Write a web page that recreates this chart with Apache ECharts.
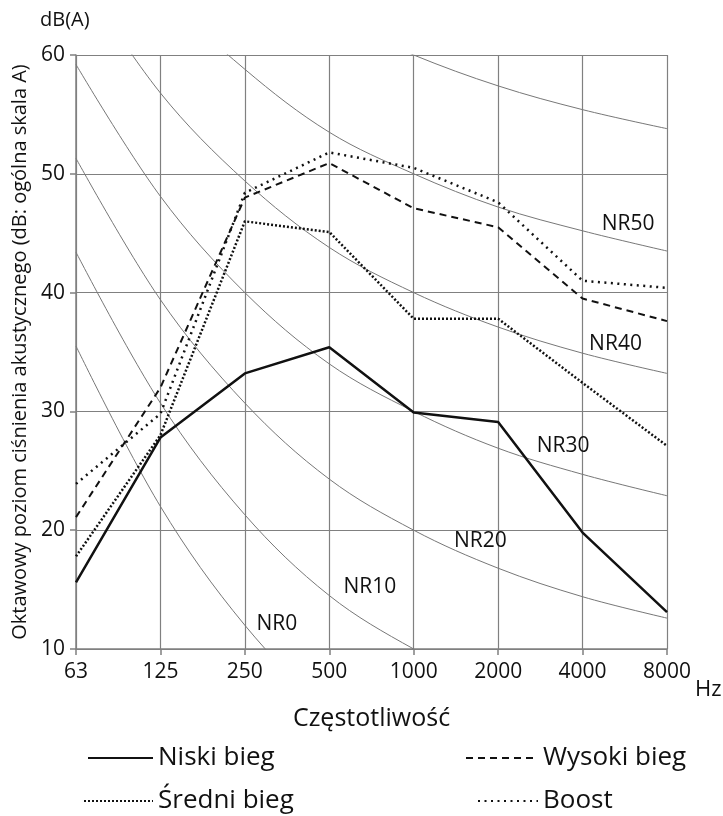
<!DOCTYPE html>
<html>
<head>
<meta charset="utf-8">
<script src="https://cdn.jsdelivr.net/npm/echarts@6/dist/echarts.min.js"></script>
<style>
  html, body { margin: 0; padding: 0; background: #fff; }
  #chart { width: 723px; height: 816px; }
</style>
</head>
<body>
<div id="chart"></div>
<script>
// pasma oktawowe
var freqs = ['63', '125', '250', '500', '1000', '2000', '4000', '8000'];
var yTicks = [10, 20, 30, 40, 50, 60];

// krzywe NR (wartości tabelaryczne)
var nr0  = [35.5, 22.0, 12.0, 4.8, 0, -3.5, -6.1, -8.0];
var nr10 = [43.4, 30.7, 21.3, 14.5, 10, 6.6, 4.2, 2.3];
var nr20 = [51.3, 39.4, 30.7, 24.3, 20, 16.8, 14.4, 12.6];
var nr30 = [59.2, 48.1, 40.0, 34.0, 30, 26.9, 24.7, 22.9];
var nr40 = [67.1, 56.8, 49.4, 43.8, 40, 37.1, 34.9, 33.2];
var nr50 = [75.0, 65.5, 58.8, 53.5, 50, 47.2, 45.2, 43.5];
var nr60 = [82.9, 74.2, 68.1, 63.2, 60, 57.4, 55.4, 53.8];

// biegi wentylatora
var niski  = [15.6, 27.8, 33.2, 35.4, 29.9, 29.1, 19.8, 13.1];
var sredni = [17.8, 28.0, 46.0, 45.1, 37.8, 37.8, 32.4, 27.1];
var wysoki = [21.1, 32.0, 48.0, 50.9, 47.1, 45.5, 39.5, 37.6];
var boost  = [23.9, 29.8, 48.4, 51.8, 50.5, 47.6, 41.0, 40.4];

// etykiety krzywych NR [indeks pasma, dB]
var nrNames = ['NR0', 'NR10', 'NR20', 'NR30', 'NR40', 'NR50'];
var nrLabelPos = [[2.38, 12.1], [3.48, 15.2], [4.79, 19.1], [5.77, 27.1], [6.39, 35.7], [6.54, 45.8]];

var FONT = 'Open Sans';
var INK = '#111';
var GRID = '#808080';

function pairs(arr) {
	return arr.map(function (v, i) { return [i, v]; });
}

function nrSeries(arr) {
	return {
		type: 'line',
		data: pairs(arr),
		smooth: 0.35,
		symbol: 'none',
		silent: true,
		z: 2,
		lineStyle: { color: '#777', width: 1 }
	};
}

function fanSeries(name, arr, width, dash) {
	return {
		name: name,
		type: 'line',
		data: pairs(arr),
		symbol: 'none',
		z: 5,
		itemStyle: { color: INK },
		lineStyle: { color: INK, width: width, type: dash }
	};
}

// jedna pozycja legendy = jeden komponent legend
function legendItem(name, left, top, w) {
	return {
		left: left, top: top,
		itemWidth: w, itemHeight: 14, itemGap: 0,
		data: [name],
		itemStyle: { opacity: 0 },
		textStyle: { fontFamily: FONT, fontSize: 26, color: INK }
	};
}

function caption(text, left, top, size) {
	return {
		text: text, left: left, top: top, padding: 0,
		textStyle: { fontFamily: FONT, fontSize: size, fontWeight: 'normal', color: INK }
	};
}

var chart = echarts.init(document.getElementById('chart'));

var series = [
	nrSeries(nr0), nrSeries(nr10), nrSeries(nr20), nrSeries(nr30),
	nrSeries(nr40), nrSeries(nr50), nrSeries(nr60),
	fanSeries('Niski bieg', niski, 2.5, 'solid'),
	fanSeries('Średni bieg', sredni, 2.5, [2, 2]),
	fanSeries('Wysoki bieg', wysoki, 2, [7, 5]),
	fanSeries('Boost', boost, 2.5, [2, 4.5]),
	{
		type: 'scatter',
		symbolSize: 0,
		silent: true,
		z: 6,
		itemStyle: { opacity: 1 },
		data: nrLabelPos.map(function (p, i) { return { value: p, name: nrNames[i] }; }),
		label: {
			show: true,
			position: 'inside',
			formatter: '{b}',
			color: INK,
			fontFamily: FONT,
			fontSize: 21
		}
	}
];

chart.setOption({
	animation: false,
	backgroundColor: '#fff',
	title: [
		caption('dB(A)', 40, 10, 20),
		caption('Hz', 695, 679, 22)
	],
	grid: { left: 76, right: 56, top: 55, bottom: 167 },
	legend: [
		legendItem('Niski bieg', 82, 740, 65),
		legendItem('Średni bieg', 78, 783, 69),
		legendItem('Wysoki bieg', 460, 740, 72),
		legendItem('Boost', 472, 783, 60)
	],
	xAxis: {
		type: 'value',
		min: 0, max: freqs.length - 1, interval: 1,
		name: 'Częstotliwość',
		nameLocation: 'middle',
		nameGap: 57,
		nameTextStyle: { fontFamily: FONT, fontSize: 25, color: INK },
		axisLine: { lineStyle: { color: GRID, width: 1.5 } },
		axisTick: { show: true, length: 6, lineStyle: { color: GRID, width: 1.5 } },
		axisLabel: {
			margin: 13,
			fontFamily: FONT, fontSize: 21, color: INK,
			formatter: function (v) { return freqs[v]; }
		},
		splitLine: { show: true, lineStyle: { color: GRID, width: 1.2 } }
	},
	yAxis: {
		type: 'value',
		min: yTicks[0], max: yTicks[yTicks.length - 1], interval: 10,
		name: 'Oktawowy poziom ciśnienia akustycznego (dB: ogólna skala A)',
		nameLocation: 'middle',
		nameGap: 44,
		nameTextStyle: { fontFamily: FONT, fontSize: 20, color: INK },
		axisLine: { show: true, lineStyle: { color: GRID, width: 1.5 } },
		axisTick: { show: true, length: 6, lineStyle: { color: GRID, width: 1.5 } },
		axisLabel: { margin: 11, fontFamily: FONT, fontSize: 21, color: INK },
		splitLine: { show: true, lineStyle: { color: GRID, width: 1.2 } }
	},
	series: series
});
</script>
</body>
</html>
